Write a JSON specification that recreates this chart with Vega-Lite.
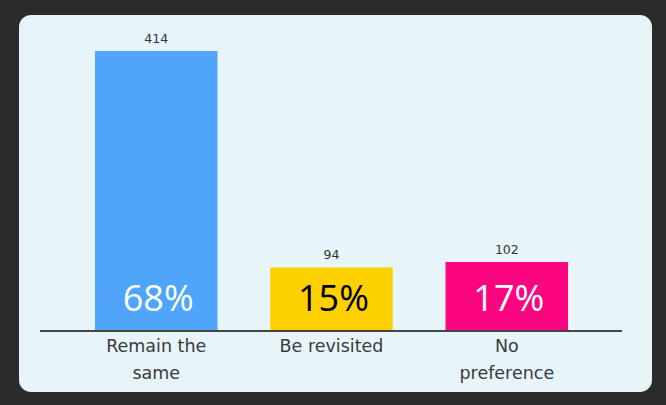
{
  "$schema": "https://vega.github.io/schema/vega-lite/v6.json",
  "width": 633,
  "height": 377,
  "autosize": {"type": "none"},
  "padding": {"left": 19, "top": 15, "right": 14, "bottom": 13},
  "background": "#2b2b2b",
  "config": {"view": {"fill": "#e7f5fb", "stroke": null, "cornerRadius": 12}},
  "data": {
    "values": [
      {"category": "Remain the same", "count": 414, "pct": "68%"},
      {"category": "Be revisited", "count": 94, "pct": "15%"},
      {"category": "No preference", "count": 102, "pct": "17%"}
    ]
  },
  "encoding": {
    "x": {
      "field": "category",
      "type": "nominal",
      "sort": null,
      "scale": {"paddingInner": 0.301, "paddingOuter": 0.456, "align": 0.475},
      "axis": {
        "title": null,
        "orient": "bottom",
        "offset": -61,
        "domain": false,
        "ticks": false,
        "grid": false,
        "labelAngle": 0,
        "labelFont": "DejaVu Sans",
        "labelFontSize": 17.5,
        "labelColor": "#3a3a3a",
        "labelPadding": 6,
        "labelLineHeight": 27,
        "labelExpr": "datum.label == 'Remain the same' ? ['Remain the', 'same'] : datum.label == 'No preference' ? ['No', 'preference'] : datum.label"
      }
    },
    "y": {
      "field": "count",
      "type": "quantitative",
      "scale": {"domain": [-90.2, 467.2], "nice": false, "zero": false},
      "axis": null
    }
  },
  "layer": [
    {
      "mark": {"type": "bar"},
      "encoding": {
        "y2": {"datum": 0},
        "color": {
          "field": "category",
          "type": "nominal",
          "scale": {"domain": ["Remain the same", "Be revisited", "No preference"], "range": ["#4ea5f9", "#fdd000", "#fb0580"]},
          "legend": null
        }
      }
    },
    {
      "mark": {"type": "rule", "color": "#454545", "strokeWidth": 2, "xOffset": -116, "x2Offset": 115},
      "encoding": {
        "x": {"datum": "Remain the same"},
        "x2": {"datum": "No preference"},
        "y": {"datum": 0}
      }
    },
    {
      "mark": {"type": "text", "font": "DejaVu Sans", "fontSize": 12.5, "color": "#333333", "baseline": "alphabetic", "dy": -8},
      "encoding": {"text": {"field": "count", "type": "quantitative"}}
    },
    {
      "mark": {"type": "text", "font": "Open Sans", "fontSize": 36, "baseline": "middle", "dy": -31, "dx": 2},
      "encoding": {
        "y": {"datum": 0},
        "text": {"field": "pct", "type": "nominal"},
        "color": {"condition": {"test": "datum.category == 'Be revisited'", "value": "#000000"}, "value": "#ffffff"}
      }
    }
  ]
}
